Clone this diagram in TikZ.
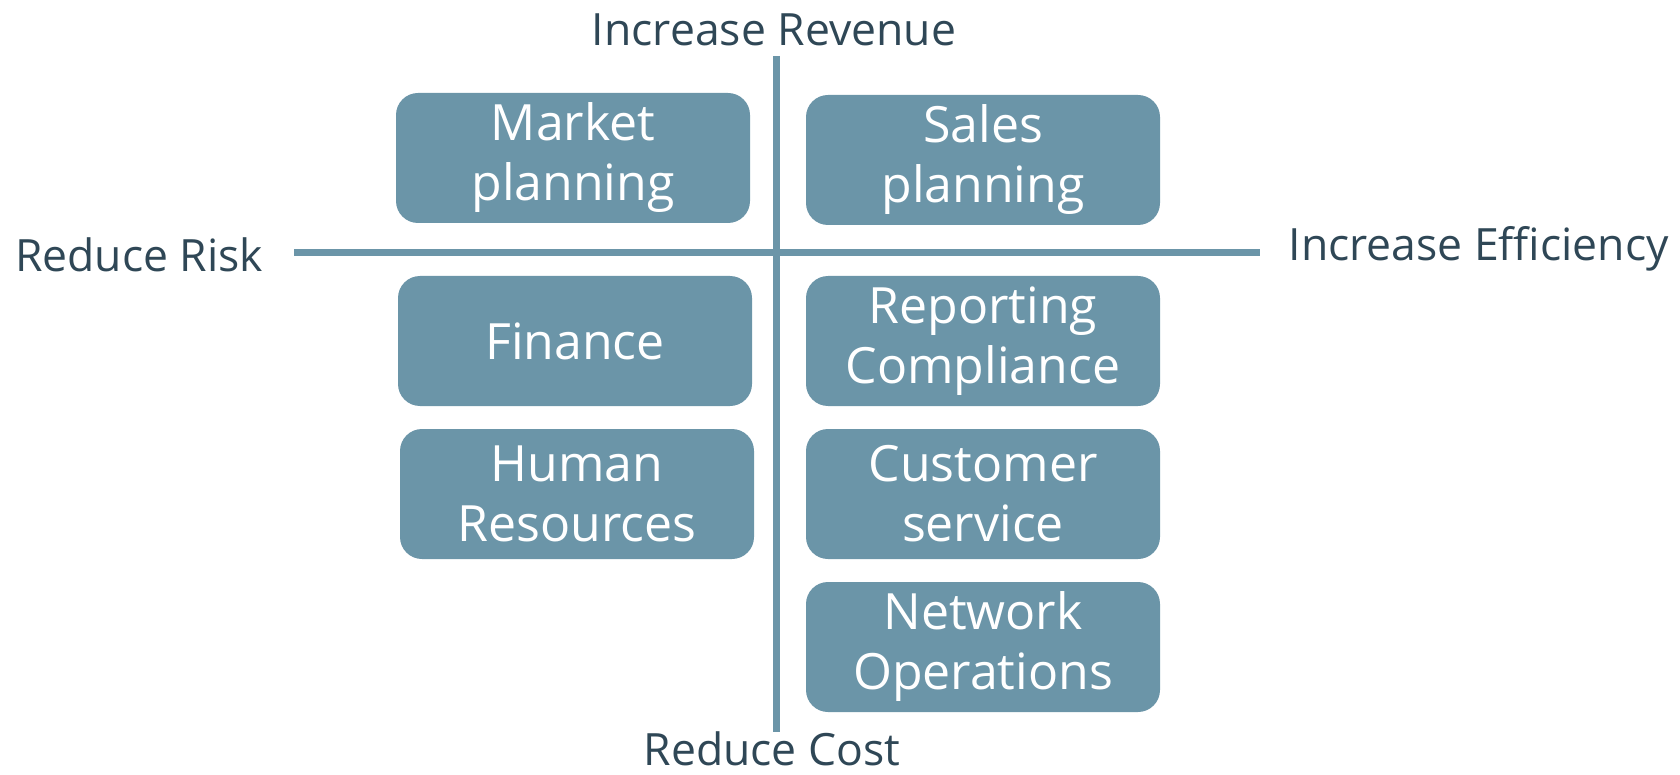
\documentclass[tikz,border=0pt]{standalone}
\usepackage{fontspec}
\setmainfont{Open Sans}
\definecolor{boxblue}{HTML}{6B95A8}
\definecolor{labeldark}{HTML}{2F4756}
\begin{document}
\begin{tikzpicture}[x=1pt,y=-1pt,
  quad/.style={draw=none,fill=boxblue,rounded corners=22pt,minimum width=354pt,minimum height=130pt,
    inner sep=0pt,align=center,text=white,font=\fontsize{50}{60}\selectfont},
  axislabel/.style={text=labeldark,inner sep=0pt,font=\fontsize{44.5}{50}\selectfont},
  axis/.style={draw=boxblue,line width=7pt}]
\useasboundingbox (0,0) rectangle (1680,775);
\coordinate (vt) at (776,56);
\coordinate (vb) at (776,732);
\coordinate (hl) at (294,253);
\coordinate (hr) at (1260,253);
\draw[axis] (vt) -- (vb);
\draw[axis] (hl) -- (hr);
\node[axislabel] (top) at (774,30) {Increase Revenue};
\node[axislabel] (bottom) at (772,749) {Reduce Cost};
\node[axislabel,anchor=west] (left) at (15,255) {Reduce Risk};
\node[axislabel,anchor=east] (right) at (1669,249) {Increase Efficiency};
\node[quad] (market) at (573,158) {Market\\planning};
\node[quad] (sales) at (983,160) {Sales\\planning};
\node[quad] (finance) at (575,341) {Finance};
\node[quad] (report) at (983,341) {Reporting\\Compliance};
\node[quad] (hr) at (577,494) {Human\\Resources};
\node[quad] (cust) at (983,494) {Customer\\service};
\node[quad] (net) at (983,647) {Network\\Operations};
\end{tikzpicture}
\end{document}
